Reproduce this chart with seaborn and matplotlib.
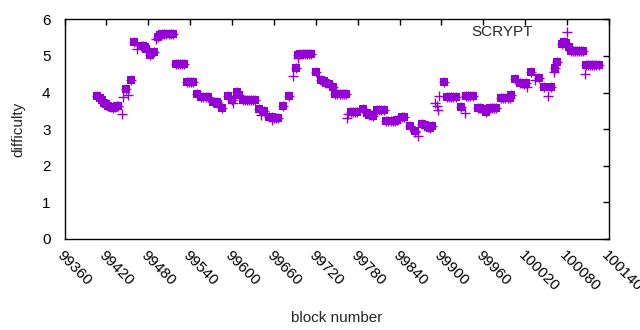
import matplotlib
matplotlib.use("Agg")
import matplotlib.pyplot as plt
import seaborn as sns
import pandas as pd

# blocks drawn with a filled square (plus a cross)
square_blocks = [
    99407, 99411, 99414, 99417, 99420, 99423, 99426, 99429, 99432, 99435, 99437,
    99448, 99455,
    99460, 99469, 99472, 99475, 99477, 99482, 99488,
    99494, 99497, 99500, 99503, 99506, 99509, 99512, 99515,
    99519, 99522, 99525, 99528, 99531,
    99535, 99538, 99541, 99544,
    99550, 99556, 99559, 99562, 99565,
    99572, 99575, 99578, 99580,
    99586, 99594, 99600, 99607, 99610,
    99615, 99618, 99621, 99624, 99627, 99630, 99633,
    99638, 99646, 99653, 99657, 99660, 99663, 99666,
    99673, 99682, 99692, 99695,
    99698, 99701, 99704, 99707, 99710, 99713,
    99720, 99727, 99731, 99735, 99739, 99745,
    99748, 99751, 99754, 99757, 99760, 99763,
    99770, 99773, 99776, 99779,
    99788, 99793, 99796, 99799, 99802,
    99808, 99811, 99814, 99818,
    99821, 99824, 99827, 99830, 99833, 99836,
    99843, 99846, 99855, 99862,
    99872, 99876, 99881, 99884, 99887,
    99903,
    99908, 99911, 99914, 99917, 99921,
    99928,
    99935, 99938, 99941, 99945,
    99952, 99955, 99958,
    99964, 99969, 99972, 99975, 99978,
    99985, 99988, 99991, 99995, 99998,
    100000, 100005,
    100012, 100015, 100018, 100021,
    100028, 100040, 100047, 100057,
    100063, 100066,
    100073, 100076, 100079, 100082,
    100085, 100088, 100091, 100094, 100097, 100100, 100103,
    100107, 100110, 100113, 100116, 100119, 100122, 100126,
]
square_diff = [
    3.90, 3.86, 3.80, 3.72, 3.68, 3.63, 3.60, 3.59, 3.60, 3.62, 3.63,
    4.10, 4.34,
    5.39, 5.28, 5.27, 5.24, 5.18, 5.03, 5.12,
    5.52, 5.56, 5.59, 5.59, 5.59, 5.59, 5.59, 5.59,
    4.77, 4.77, 4.77, 4.77, 4.77,
    4.28, 4.28, 4.28, 4.28,
    3.95, 3.88, 3.87, 3.87, 3.87,
    3.73, 3.73, 3.73, 3.70,
    3.57, 3.91, 3.80, 4.02, 3.92,
    3.79, 3.79, 3.79, 3.79, 3.79, 3.79, 3.79,
    3.54, 3.50, 3.34, 3.32, 3.31, 3.31, 3.31,
    3.63, 3.91, 4.66, 5.03,
    5.05, 5.05, 5.05, 5.05, 5.05, 5.05,
    4.55, 4.35, 4.31, 4.27, 4.22, 4.16,
    3.95, 3.95, 3.95, 3.95, 3.95, 3.95,
    3.46, 3.46, 3.46, 3.46,
    3.55, 3.43, 3.40, 3.38, 3.37,
    3.52, 3.52, 3.52, 3.52,
    3.22, 3.22, 3.21, 3.22, 3.22, 3.24,
    3.33, 3.33, 3.09, 2.96,
    3.14, 3.12, 3.06, 3.03, 3.08,
    4.30,
    3.87, 3.87, 3.87, 3.87, 3.87,
    3.61,
    3.91, 3.91, 3.91, 3.91,
    3.57, 3.57, 3.55,
    3.46, 3.57, 3.57, 3.57, 3.57,
    3.84, 3.84, 3.84, 3.84, 3.84,
    3.93, 4.37,
    4.27, 4.25, 4.24, 4.25,
    4.57, 4.39, 4.14, 4.14,
    4.66, 4.84,
    5.33, 5.37, 5.35, 5.25,
    5.14, 5.14, 5.14, 5.14, 5.14, 5.14, 5.14,
    4.75, 4.75, 4.75, 4.75, 4.75, 4.75, 4.75,
]

# blocks drawn only with a cross
cross_blocks = [
    99419, 99442, 99444, 99451, 99464, 99491, 99601, 99642, 99657, 99688,
    99694, 99765, 99766, 99862, 99867, 99891, 99893, 99895, 99897, 99933,
    100022, 100034, 100052, 100061, 100080, 100105,
]
cross_diff = [
    3.66, 3.41, 3.89, 3.92, 5.18, 5.46, 3.72, 3.39, 3.25, 4.46,
    4.94, 3.30, 3.41, 2.93, 2.81, 3.71, 3.62, 3.52, 3.91, 3.43,
    4.16, 4.34, 3.91, 4.55, 5.66, 4.50,
]

x_ticks = list(range(99360, 100141, 60))
y_ticks = [0, 1, 2, 3, 4, 5, 6]
purple = "#9400D3"

sns.set_style("white")
plt.rcParams["font.family"] = ["Liberation Sans", "DejaVu Sans"]

squares = pd.DataFrame({"block": square_blocks, "difficulty": square_diff})
crosses = pd.DataFrame({"block": square_blocks + cross_blocks,
                        "difficulty": square_diff + cross_diff})

fig = plt.figure(figsize=(6.4, 3.3), dpi=100)
ax = fig.add_axes([0.1008, 0.2758, 0.8508, 0.6657])

sns.scatterplot(data=squares, x="block", y="difficulty", marker="s", s=28,
                color=purple, linewidth=0, ax=ax, zorder=3)
sns.scatterplot(data=crosses, x="block", y="difficulty", marker="+", s=48,
                color=purple, linewidth=1.0, ax=ax, zorder=3)

ax.set_xlim(99360, 100140)
ax.set_ylim(0, 6)
ax.set_xticks(x_ticks)
ax.set_yticks(y_ticks)
ax.set_xticklabels([str(t) for t in x_ticks], rotation=-45, ha="left",
                   va="top", rotation_mode="anchor")
ax.tick_params(direction="in", top=True, right=True, length=4, width=1,
               labelsize=11, colors="black")
ax.tick_params(axis="y", pad=10)
ax.tick_params(axis="x", pad=7)
for sp in ax.spines.values():
    sp.set_color("black")
    sp.set_linewidth(1)

ax.set_xlabel("block number", fontsize=11, labelpad=12)
ax.set_ylabel("difficulty", fontsize=11, labelpad=12)
ax.text(0.86, 0.942, "SCRYPT", transform=ax.transAxes, fontsize=11,
        ha="right", va="center")

fig.savefig("out.png", dpi=100)
